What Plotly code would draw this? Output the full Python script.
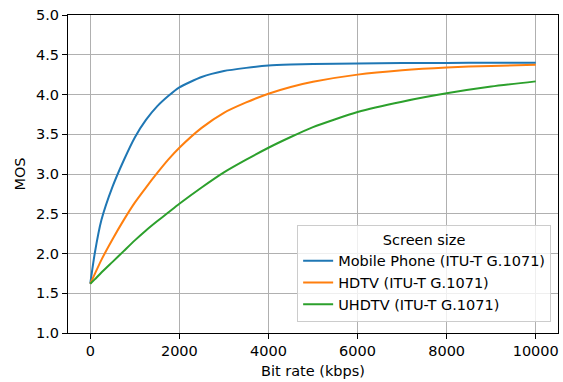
import plotly.graph_objects as go

bitrate = [0, 100, 250, 500, 750, 1000, 1250, 1500, 1750, 2000, 2500, 3000, 3500,
           4000, 4500, 5000, 6000, 7000, 8000, 9000, 10000]
mos_mobile = [1.62, 2.00, 2.42, 2.84, 3.17, 3.46, 3.68, 3.85, 3.98, 4.09, 4.22, 4.295, 4.335,
              4.365, 4.378, 4.385, 4.39, 4.395, 4.397, 4.399, 4.40]
mos_hdtv = [1.62, 1.74, 1.92, 2.18, 2.42, 2.64, 2.83, 3.01, 3.18, 3.33, 3.58, 3.77, 3.90,
            4.01, 4.095, 4.16, 4.25, 4.305, 4.34, 4.36, 4.375]
mos_uhdtv = [1.62, 1.675, 1.76, 1.895, 2.03, 2.165, 2.29, 2.405, 2.515, 2.625, 2.83, 3.02, 3.18,
             3.33, 3.465, 3.59, 3.78, 3.91, 4.015, 4.10, 4.165]

series_names = ["Mobile Phone (ITU-T G.1071)", "HDTV (ITU-T G.1071)", "UHDTV (ITU-T G.1071)"]
colors = ["#1f77b4", "#ff7f0e", "#2ca02c"]
x_ticks = [0, 2000, 4000, 6000, 8000, 10000]
y_ticks = [1.0, 1.5, 2.0, 2.5, 3.0, 3.5, 4.0, 4.5, 5.0]

fig = go.Figure()
for name, ys, c in zip(series_names, [mos_mobile, mos_hdtv, mos_uhdtv], colors):
    fig.add_trace(go.Scatter(x=bitrate, y=ys, mode="lines", name=name,
                             line=dict(color=c, width=2, shape="spline", smoothing=0.6)))

font = dict(family="DejaVu Sans", size=14.5, color="#000000")
axis_common = dict(showline=True, mirror=True, linecolor="#000000", linewidth=1,
                   ticks="outside", ticklen=5, tickcolor="#000000", tickwidth=1,
                   showgrid=True, gridcolor="#b0b0b0", gridwidth=1, zeroline=False,
                   tickfont=font)

fig.update_layout(
    width=563, height=382,
    margin=dict(l=68, r=5, t=15, b=49),
    paper_bgcolor="white", plot_bgcolor="white",
    font=font,
    xaxis=dict(range=[-500, 10500], tickvals=x_ticks, ticktext=[str(v) for v in x_ticks],
               title=dict(text="Bit rate (kbps)", font=font, standoff=7), **axis_common),
    yaxis=dict(range=[1.0, 5.0], tickvals=y_ticks, ticktext=[f"{v:.1f}" for v in y_ticks],
               title=dict(text="MOS", font=font, standoff=6), **axis_common),
    legend=dict(x=0.986, y=0.035, xanchor="right", yanchor="bottom",
                bgcolor="rgba(255,255,255,0.8)", bordercolor="#cccccc", borderwidth=1,
                font=font, itemwidth=30, tracegroupgap=0,
                title=dict(text="Screen size", font=font, side="top center")),
    showlegend=True,
)

fig.write_html("out.html", config={"displayModeBar": False},
               post_script="document.body.style.margin='0';")
